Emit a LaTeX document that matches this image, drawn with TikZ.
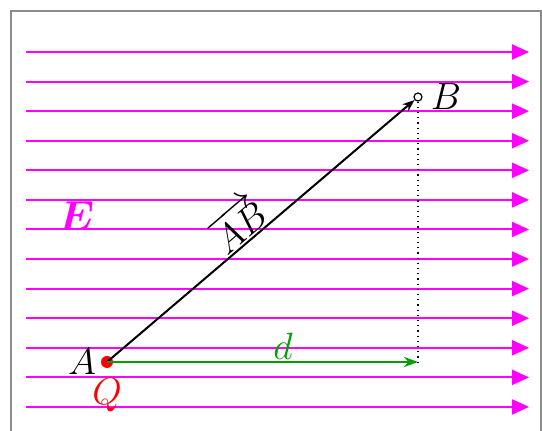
\RequirePackage{fix-cm}
\documentclass[tikz,border=0pt]{standalone}
\usepackage{tikz}
\usepackage{bm}
\usetikzlibrary{arrows.meta,calc}
\definecolor{fieldMagenta}{HTML}{FF00FF}
\definecolor{dispGreen}{HTML}{00A000}
\definecolor{frameGray}{HTML}{8C8C8C}

\begin{document}
\begin{tikzpicture}[x=0.5pt,y=-0.5pt, every node/.style={font=\fontsize{19}{22}\selectfont}]
    \useasboundingbox (0,0) rectangle (542,431);
    \draw[line width=1pt, frameGray] (11,470) -- (11,11) -- (540.5,11) -- (540.5,470);
    % field lines
    \foreach \k in {0,...,12}
      \draw[line width=1pt, fieldMagenta, -{Triangle[length=8.5pt,width=7.5pt]}] (26,{52+29.58*\k}) -- (529,{52+29.58*\k});
    \node[circle, fill=red, inner sep=0pt, minimum size=6pt] (A) at (107,362) {};
    \node[circle, draw, fill=white, inner sep=0pt, minimum size=4pt, line width=0.6pt] (B) at (418,97) {};
    \coordinate (D) at (418,362);
    \draw[dotted, line width=0.6pt] (B) -- (D);
    \draw[line width=1pt, -{Stealth[length=6pt,width=4.5pt]}] (A.center) -- (B);
    \draw[line width=1.2pt, dispGreen, -{Stealth[length=7pt,width=5pt]}] (A.center) -- (D);
    \node (labA) at (82,362) {$A$};
    \node[text=red] (labQ) at (107,395) {$Q$};
    \node (labB) at (446,97) {$B$};
    \node[text=dispGreen] (labd) at (283,346) {$d$};
    \node[text=fieldMagenta, font=\fontsize{21}{24}\selectfont] (labE) at (76,216) {$\bm{E}$};
    \node[rotate=40.5, inner sep=0pt] (labAB) at (237,223) {$\overrightarrow{AB}$};
  \end{tikzpicture}
\end{document}
